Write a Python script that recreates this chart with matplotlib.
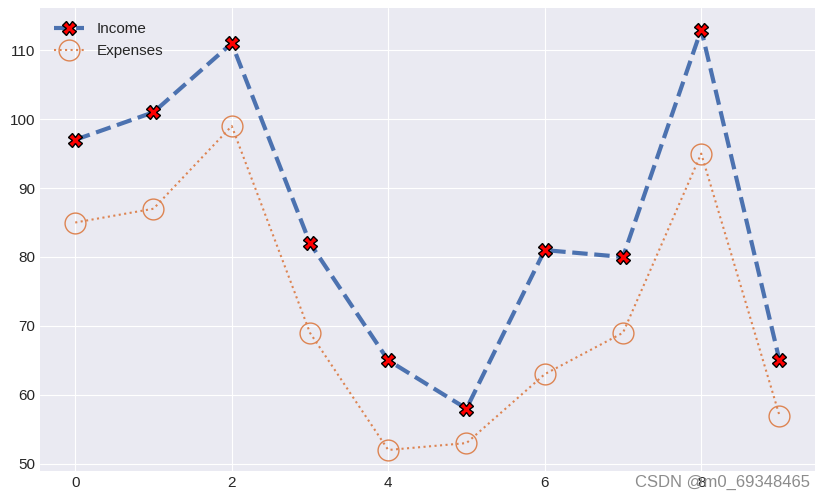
import matplotlib
matplotlib.use("Agg")
import matplotlib.pyplot as plt
import numpy as np

plt.style.use("seaborn-v0_8-darkgrid")
plt.rcParams['font.family'] = ['Liberation Sans', 'DejaVu Sans']

x = list(range(10))
income = [97, 101, 111, 82, 65, 58, 81, 80, 113, 65]
expenses = [85, 87, 99, 69, 52, 53, 63, 69, 95, 57]

fig = plt.figure(figsize=(8.25, 5), dpi=100)
ax = fig.add_axes([0.0485, 0.058, 0.939, 0.925])

ax.plot(x, income, linestyle='--', linewidth=3, color='#4c72b0',
        marker='X', markersize=10, markerfacecolor='red', markeredgecolor='black',
        label='Income')
ax.plot(x, expenses, linestyle=':', linewidth=1.5, color='#dd8452',
        marker='o', markersize=15, markerfacecolor='none', markeredgecolor='#dd8452',
        label='Expenses')

ax.tick_params(labelsize=11)
ax.legend(loc='upper left', fontsize=11)

fig.text(0.982, 0.035, 'CSDN @m0_69348465', ha='right', va='center',
         fontsize=12, color='#8c8c8c')

fig.savefig('out.png', dpi=100)
